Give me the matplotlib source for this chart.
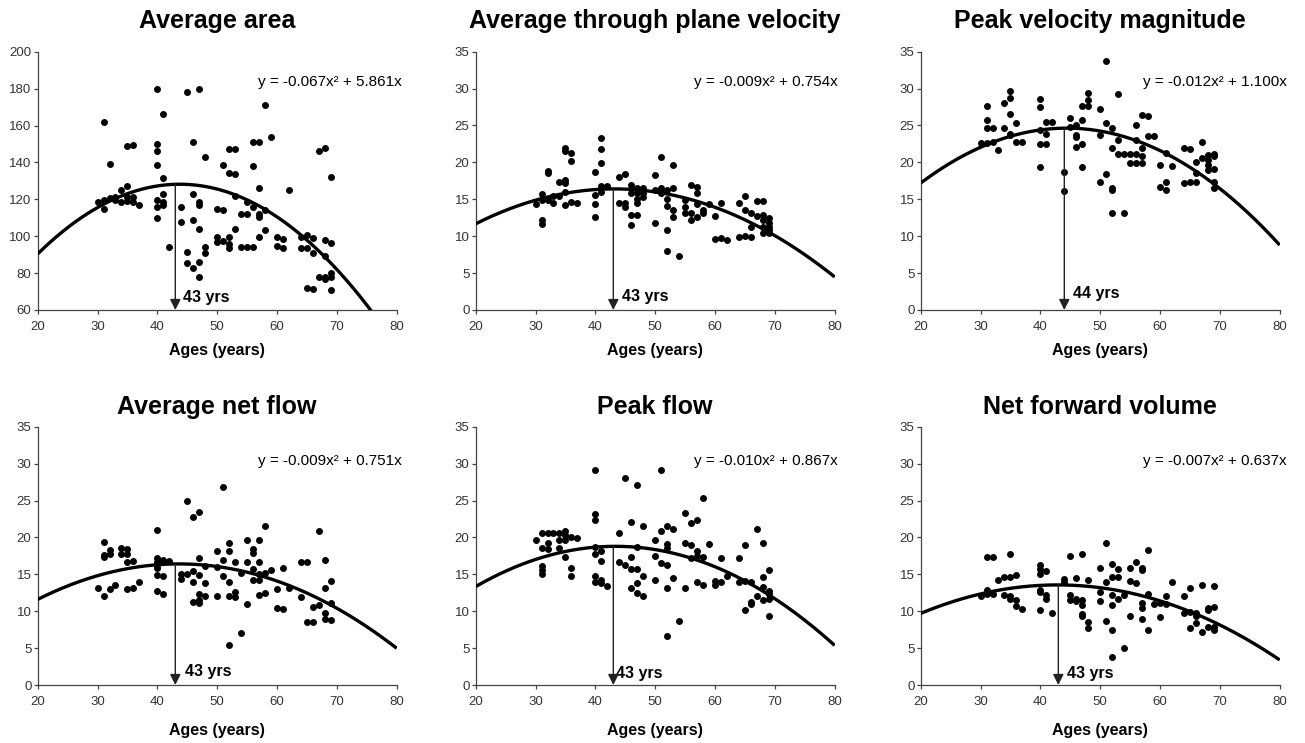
import numpy as np
import matplotlib
matplotlib.use('Agg')
import matplotlib.pyplot as plt

plt.rcParams['font.family'] = ['Liberation Sans', 'DejaVu Sans']

# scatter points, age -> values
area = {30: [118.7], 31: [162, 115, 119.6], 32: [139, 120.5], 33: [121.4, 119.6], 34: [125, 118.7],
        35: [149, 127.2, 121.4, 119], 36: [149.4, 118.7, 121], 37: [117],
        40: [180, 150, 146, 138.6, 119.6, 116, 109.7], 41: [166, 131.7, 123, 118.7, 117], 42: [94.3],
        44: [115.6, 107.5], 45: [178, 91.6, 85.3], 46: [151, 122.9, 109, 82.6],
        47: [179.8, 118.7, 117, 103.7, 86.2, 77.7], 48: [143, 94, 91], 50: [114.5, 99.7, 97],
        51: [138.6, 114, 97.6], 52: [147, 134.4, 99.7, 96, 93.4], 53: [147, 133.5, 122, 103.7],
        54: [111.8, 94], 55: [111.8, 94, 118.7], 56: [151, 138, 94, 116], 57: [151, 126, 112, 110.6, 99.4],
        58: [171, 103.4, 114], 59: [154], 60: [99.7, 94.7], 61: [98.7, 93.4], 62: [125], 64: [93.4, 99.4],
        65: [100.6, 93.4, 71.7], 66: [98.8, 90.7, 71.2], 67: [146, 78], 68: [147.6, 98, 89, 78, 77],
        69: [132, 96.5, 80, 78, 70.8]}

through_vel = {30: [14.4], 31: [15.7, 14.9, 12.2, 11.7], 32: [18.9, 18.6, 14.9], 33: [14.5, 15.4],
               34: [17.4, 15.4], 35: [21.9, 21.5, 17.6, 17.2, 16.0, 14.2], 36: [21.3, 20.2, 14.7], 37: [14.5],
               40: [18.7, 15.6, 14.4, 12.6], 41: [23.3, 21.8, 19.9, 16.8, 16.0], 42: [16.8], 44: [18.0, 14.5],
               45: [18.4, 14.5, 13.9], 46: [16.9, 15.9, 12.9, 11.5], 47: [16.5, 15.9, 15.1, 14.5, 12.9],
               48: [16.5, 15.8, 15.3], 50: [18.3, 16.3, 11.8], 51: [20.7, 16.5, 15.8],
               52: [16.3, 15.0, 14.1, 10.9, 8.0], 53: [19.6, 16.5, 13.6, 12.6], 54: [7.3],
               55: [14.9, 14.0, 13.2], 56: [16.9, 13.2, 12.2], 57: [16.6, 15.8, 12.6, 14.4], 58: [13.6, 13.1],
               59: [14.4], 60: [12.7, 9.6], 61: [14.5, 9.8], 62: [9.5], 64: [14.5, 9.9], 65: [15.4, 13.5, 10.0],
               66: [13.2, 11.3, 9.9], 67: [14.8, 12.7], 68: [14.8, 12.9, 12.2, 11.3, 10.4],
               69: [12.4, 11.8, 11.3, 10.8, 10.4]}

peak_vel = {30: [22.6], 31: [27.6, 25.7, 24.7, 22.6], 32: [24.6, 22.8], 33: [21.7], 34: [28.0, 24.7],
            35: [29.7, 28.7, 26.6, 23.9, 23.7], 36: [25.4, 22.8], 37: [22.7], 40: [28.6, 27.5, 24.4, 22.5, 19.4],
            41: [25.5, 23.8, 22.5], 42: [25.5], 44: [18.7, 16.1], 45: [26.0, 24.8], 46: [25.1, 23.5, 22.1, 23.7],
            47: [27.6, 25.7, 22.5, 19.4], 48: [29.4, 28.5, 27.6], 50: [27.2, 23.7, 17.4], 51: [33.8, 25.4, 18.4],
            52: [24.6, 21.9, 16.5, 16.3, 13.2], 53: [29.3, 23.0, 21.1], 54: [21.1, 13.2], 55: [21.1, 19.9],
            56: [25.0, 23.1, 21.1, 19.9], 57: [26.4, 21.9, 20.8, 19.9], 58: [26.3, 23.6], 59: [23.6],
            60: [19.6, 16.7], 61: [21.3, 17.4, 16.3], 62: [19.5], 64: [22.0, 17.2], 65: [21.8, 17.4],
            66: [20.0, 17.3, 18.5], 67: [22.8, 20.6], 68: [21.0, 20.3, 19.6, 19.0],
            69: [21.1, 20.8, 19.1, 17.4, 16.5]}

net_flow = {30: [13.1], 31: [19.4, 17.6, 17.3, 12.0], 32: [18.3, 17.8, 13.0], 33: [13.5], 34: [18.6, 17.7],
            35: [18.4, 17.8, 16.7, 13.0], 36: [16.8, 13.1], 37: [14.0],
            40: [21.0, 17.2, 16.7, 16.3, 15.8, 14.9, 12.8], 41: [17.0, 16.6, 14.8, 12.3], 42: [16.8],
            44: [15.1, 14.3], 45: [24.9, 15.1], 46: [22.8, 15.4, 13.9, 11.2],
            47: [23.5, 17.2, 14.9, 12.3, 11.5, 11.1], 48: [16.1, 13.8, 12.1], 50: [18.1, 16.0, 12.1],
            51: [26.8, 17.0, 14.8], 52: [19.2, 18.1, 13.9, 12.1, 5.4], 53: [16.6, 12.6, 11.9], 54: [15.2, 7.1],
            55: [19.7, 16.6, 11.0], 56: [18.4, 17.9, 15.7, 14.2], 57: [19.7, 16.6, 15.0, 14.2, 12.2],
            58: [21.5, 15.2, 12.4], 59: [15.6], 60: [13.0, 10.4], 61: [15.8, 10.3], 62: [13.1],
            64: [16.6, 11.9], 65: [16.6, 8.6], 66: [10.6, 8.6], 67: [20.8, 10.8], 68: [17.0, 13.1, 9.7, 9.0],
            69: [14.1, 11.1, 8.8]}

peak_flow = {30: [19.7], 31: [20.6, 18.6, 16.1, 15.6, 15.1], 32: [20.6, 19.3, 18.4], 33: [20.6],
             34: [20.6, 19.7, 18.5], 35: [20.8, 20.3, 19.7, 17.4], 36: [20.1, 15.8, 14.8], 37: [19.9],
             40: [29.2, 23.2, 22.4, 18.7, 17.8, 14.8, 14.0], 41: [18.1, 16.8, 14.2, 13.8], 42: [13.4],
             44: [20.6, 16.7], 45: [28.0, 16.3], 46: [22.1, 17.3, 15.7, 13.2], 47: [27.1, 18.7, 15.7, 13.8, 12.5],
             48: [21.5, 14.8, 12.0], 50: [19.6, 17.5, 14.2], 51: [29.1, 20.9, 16.5],
             52: [21.5, 19.1, 18.5, 16.3, 13.2, 6.6], 53: [21.2, 14.5], 54: [8.7], 55: [23.3, 19.2, 13.2],
             56: [21.9, 19.0, 17.2], 57: [22.4, 18.2, 17.5, 14.0], 58: [25.3, 17.4, 13.6], 59: [19.1],
             60: [14.1, 13.6], 61: [17.2, 14.0], 62: [14.8], 64: [17.2, 14.0], 65: [19.0, 14.1, 10.2],
             66: [14.0, 11.3, 11.0], 67: [21.1, 12.1], 68: [19.2, 14.6, 13.3, 11.5],
             69: [15.6, 12.8, 12.3, 11.6, 9.3]}

fwd_volume = {30: [12.1], 31: [17.3, 12.9, 12.3], 32: [17.3, 12.3], 33: [14.2], 34: [14.7, 12.2],
              35: [17.8, 14.7, 12.0, 11.6], 36: [14.9, 11.5, 10.7], 37: [10.3],
              40: [16.3, 15.7, 15.0, 12.9, 12.6, 10.2], 41: [15.5, 12.2, 11.7], 42: [9.7], 44: [14.3, 14.0],
              45: [17.5, 12.2, 11.5], 46: [14.5, 11.7, 11.4], 47: [17.8, 11.5, 10.8, 9.6, 9.3],
              48: [14.2, 8.6, 7.7], 50: [15.9, 12.6, 11.4], 51: [19.2, 14.0, 8.7],
              52: [16.4, 14.7, 12.2, 10.8, 7.5, 3.8], 53: [15.7, 14.7, 11.7], 54: [12.2, 5.0],
              55: [15.8, 14.1, 9.3], 56: [16.6, 13.8], 57: [15.8, 15.6, 11.1, 10.5, 9.0], 58: [18.3, 12.3, 7.5],
              59: [11.0], 60: [11.1, 9.2], 61: [11.0, 12.1], 62: [13.9], 64: [12.0, 9.8], 65: [13.1, 9.9, 7.7],
              66: [9.8, 9.3, 8.4], 67: [13.6, 7.2], 68: [10.5, 10.1, 7.9], 69: [13.4, 10.6, 7.9, 7.4]}

titles = ['Average area', 'Average through plane velocity', 'Peak velocity magnitude',
          'Average net flow', 'Peak flow', 'Net forward volume']
equations = ['y = -0.067x\u00b2 + 5.861x', 'y = -0.009x\u00b2 + 0.754x', 'y = -0.012x\u00b2 + 1.100x',
             'y = -0.009x\u00b2 + 0.751x', 'y = -0.010x\u00b2 + 0.867x', 'y = -0.007x\u00b2 + 0.637x']
# trend line coefficients as drawn (y = -a x^2 + b x)
curve_a = [0.067, 0.0088, 0.0125, 0.00863, 0.010, 0.007375]
curve_b = [5.861, 0.760, 1.11, 0.7526, 0.867, 0.6325]
peak_ages = [43, 43, 44, 43, 43, 43]
y_ranges = [(60, 200, 20), (0, 35, 5), (0, 35, 5), (0, 35, 5), (0, 35, 5), (0, 35, 5)]
datasets = [area, through_vel, peak_vel, net_flow, peak_flow, fwd_volume]

W, H = 1305, 743
fig = plt.figure(figsize=(W / 100, H / 100), dpi=100)
lefts = [37.7, 475.7, 920.7]
bottoms = [310, 685]
aw, ah = 359, 258.3
eq_right = [1.015, 1.008, 1.02]
eq_y = [0.883, 0.868]
lab_x = [44.3, 44.4, 45.5, 44.7, 43.5, 44.5]
lab_y = [0.047, 0.051, 0.062, 0.051, 0.046, 0.046]

for i in range(6):
    r, c = divmod(i, 3)
    ax = fig.add_axes([lefts[c] / W, 1 - bottoms[r] / H, aw / W, ah / H])
    d = datasets[i]
    xs = [k for k, v in d.items() for _ in v]
    ys = [y for v in d.values() for y in v]
    ax.scatter(xs, ys, s=25, color='black', zorder=3, linewidths=0)

    lo, hi, step = y_ranges[i]
    xc = np.linspace(20, 80, 300)
    yc = -curve_a[i] * xc ** 2 + curve_b[i] * xc
    ax.plot(xc, yc, color='black', lw=2.4, solid_capstyle='butt', zorder=4)

    pa = peak_ages[i]
    ytop = -curve_a[i] * pa ** 2 + curve_b[i] * pa
    ax.annotate('', xy=(pa, lo), xytext=(pa, ytop),
                arrowprops=dict(arrowstyle='-|>', color='#222222', lw=1.0,
                                mutation_scale=16, shrinkA=0, shrinkB=0), zorder=5)
    ax.text(lab_x[i], lab_y[i], '%d yrs' % pa, transform=ax.get_xaxis_transform(),
            fontsize=11.5, fontweight='bold', va='center', ha='left')
    ax.text(eq_right[c], eq_y[r], equations[i], transform=ax.transAxes,
            fontsize=11, ha='right', va='center')

    ax.set_xlim(20, 80)
    ax.set_ylim(lo, hi)
    ax.set_xticks(range(20, 81, 10))
    ax.set_yticks(range(lo, hi + 1, step))
    for s in ['top', 'right']:
        ax.spines[s].set_visible(False)
    for s in ['left', 'bottom']:
        ax.spines[s].set_color('#444444')
        ax.spines[s].set_linewidth(0.9)
    ax.tick_params(axis='both', length=3, width=0.9, color='#444444',
                   labelsize=9.5, labelcolor='#333333')
    ax.tick_params(axis='x', pad=5)
    ax.tick_params(axis='y', pad=1.5)
    ax.set_title(titles[i], fontsize=18, fontweight='bold', pad=17 if r == 0 else 9)
    ax.set_xlabel('Ages (years)', fontsize=11.5, fontweight='bold', labelpad=7 if r == 0 else 11)

fig.savefig('out.png', dpi=100)
